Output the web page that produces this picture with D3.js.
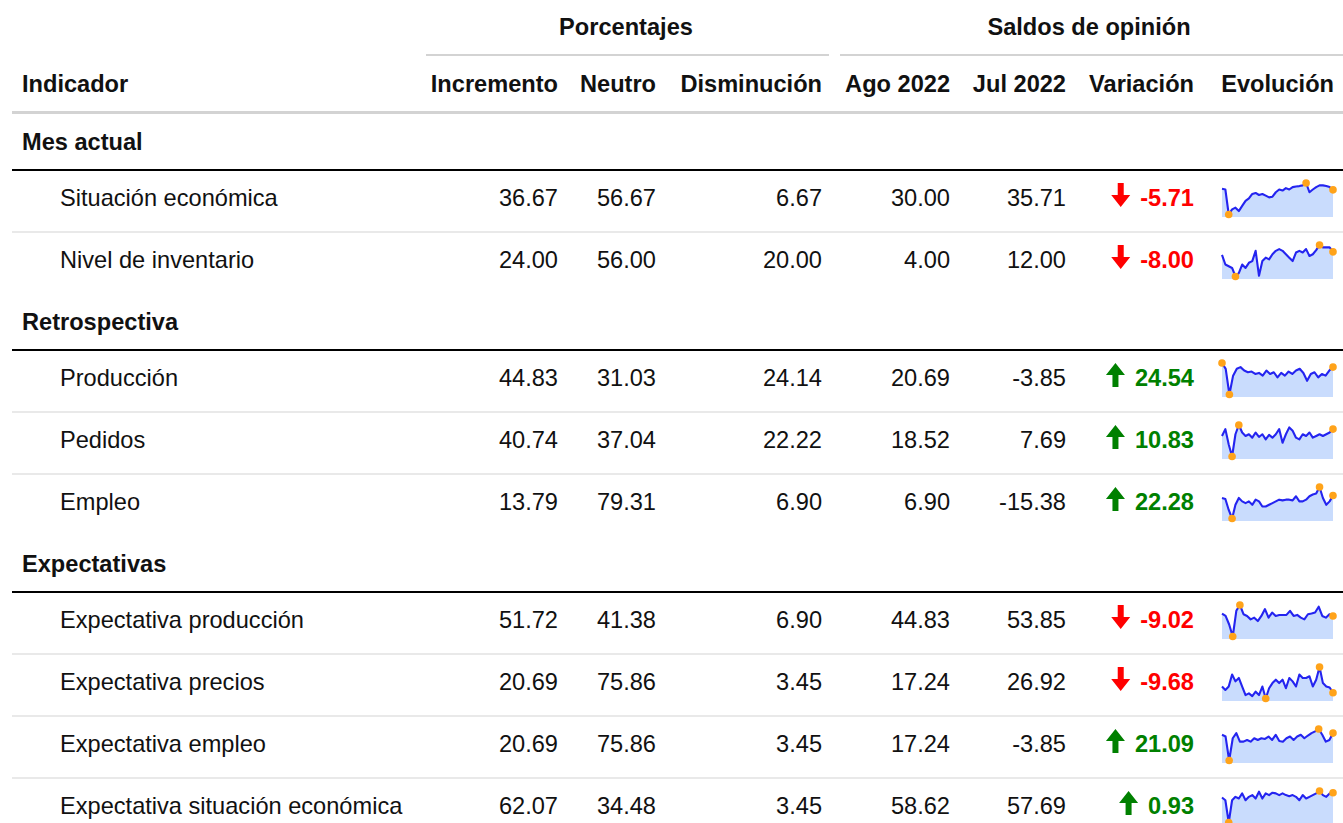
<!DOCTYPE html>
<html>
<head>
<meta charset="utf-8">
<script src="https://cdn.jsdelivr.net/npm/d3@7"></script>
<style>
  body { margin: 0; background: #fff; }
  .bold { font-weight: bold; }
</style>
</head>
<body>
<div id="table"></div>
<script>
// grouped indicators
const groups = ["Mes actual", "Retrospectiva", "Expectativas"];
const indicators = [
  ["Situación económica", "Nivel de inventario"],
  ["Producción", "Pedidos", "Empleo"],
  ["Expectativa producción", "Expectativa precios", "Expectativa empleo", "Expectativa situación económica"]
];
const incremento  = [36.67, 24.00, 44.83, 40.74, 13.79, 51.72, 20.69, 20.69, 62.07];
const neutro      = [56.67, 56.00, 31.03, 37.04, 79.31, 41.38, 75.86, 75.86, 34.48];
const disminucion = [6.67, 20.00, 24.14, 22.22, 6.90, 6.90, 3.45, 3.45, 3.45];
const ago2022     = [30.00, 4.00, 20.69, 18.52, 6.90, 44.83, 17.24, 17.24, 58.62];
const jul2022     = [35.71, 12.00, -3.85, 7.69, -15.38, 53.85, 26.92, -3.85, 57.69];
const variacion   = [-5.71, -8.00, 24.54, 10.83, 22.28, -9.02, -9.68, 21.09, 0.93];

// evolution of the balance (sparklines)
const evolucion = [
  [75, 73, 0, 15, 20, 10, 25, 40, 47, 60, 63, 57, 60, 55, 50, 52, 65, 73, 70, 77, 73, 80, 82, 83, 85, 92, 65, 73, 80, 85, 85, 83, 80, 72],
  [63, 35, 30, 25, 0, 10, 35, 25, 40, 45, 75, 2, 45, 55, 50, 65, 75, 80, 75, 65, 55, 45, 70, 75, 70, 80, 60, 65, 77, 92, 85, 85, 85, 72],
  [92, 75, 0, 55, 75, 80, 70, 65, 67, 60, 63, 55, 70, 60, 65, 50, 63, 55, 67, 60, 70, 75, 63, 40, 60, 65, 50, 60, 55, 70, 80],
  [60, 80, 35, 0, 65, 92, 70, 60, 65, 55, 70, 57, 65, 50, 63, 55, 65, 80, 40, 65, 85, 75, 55, 50, 65, 60, 70, 55, 60, 65, 60, 65, 70, 80],
  [60, 57, 25, 0, 40, 60, 50, 45, 50, 40, 55, 50, 35, 35, 40, 45, 50, 55, 53, 55, 55, 53, 65, 50, 50, 55, 65, 70, 73, 92, 60, 40, 50, 67],
  [67, 60, 35, 0, 75, 92, 65, 60, 50, 55, 45, 60, 80, 55, 70, 60, 63, 63, 63, 75, 60, 63, 55, 50, 65, 67, 70, 87, 60, 55, 65, 60],
  [35, 25, 35, 70, 50, 60, 35, 10, 15, 7, 20, 10, 35, 0, 30, 45, 55, 45, 55, 30, 60, 50, 35, 70, 60, 60, 65, 35, 55, 92, 45, 35, 32, 17],
  [75, 70, 0, 65, 80, 55, 55, 60, 55, 65, 60, 65, 63, 70, 60, 75, 57, 55, 65, 70, 60, 70, 75, 65, 73, 80, 85, 92, 75, 55, 60, 80],
  [73, 65, 0, 65, 75, 70, 85, 65, 75, 80, 70, 90, 70, 85, 80, 87, 85, 80, 85, 80, 77, 80, 75, 65, 80, 70, 75, 80, 85, 92, 80, 75, 85, 87]
];

const width = 1343, height = 823;
const groupH = 56, rowH = 62, top0 = 114;

const svg = d3.select("#table").append("svg")
  .attr("width", width).attr("height", height)
  .attr("font-family", "'Liberation Sans', sans-serif")
  .attr("font-size", 23.6)
  .attr("fill", "#111");

// column right edges
const cols = [
  { name: "Incremento", x: 558, vals: incremento },
  { name: "Neutro", x: 656, vals: neutro },
  { name: "Disminución", x: 822, vals: disminucion },
  { name: "Ago 2022", x: 950, vals: ago2022 },
  { name: "Jul 2022", x: 1066, vals: jul2022 }
];

// spanners
const spanners = [
  { label: "Porcentajes", x0: 426, x1: 829, cx: 626 },
  { label: "Saldos de opinión", x0: 840, x1: 1343, cx: 1089 }
];
spanners.forEach(s => {
  svg.append("text").attr("class", "bold")
    .attr("x", s.cx).attr("y", 35)
    .attr("text-anchor", "middle").text(s.label);
  svg.append("rect").attr("x", s.x0).attr("y", 54).attr("width", s.x1 - s.x0)
    .attr("height", 2).attr("fill", "#d3d3d3");
});

// column headers
svg.append("text").attr("class", "bold").attr("x", 22).attr("y", 91.5).text("Indicador");
cols.forEach(c => {
  svg.append("text").attr("class", "bold").attr("x", c.x).attr("y", 91.5)
    .attr("text-anchor", "end").text(c.name);
});
svg.append("text").attr("class", "bold").attr("x", 1194).attr("y", 91.5)
  .attr("text-anchor", "end").text("Variación");
svg.append("text").attr("class", "bold").attr("x", 1334).attr("y", 91.5)
  .attr("text-anchor", "end").text("Evolución");
svg.append("rect").attr("x", 12).attr("y", 111).attr("width", width - 12)
  .attr("height", 3).attr("fill", "#d3d3d3");

// flatten rows
const rows = [];
let y = top0, k = 0;
groups.forEach((g, gi) => {
  rows.push({ type: "group", label: g, y0: y });
  y += groupH;
  indicators[gi].forEach((name, j) => {
    rows.push({ type: "row", label: name, y0: y, i: k++, last: j === indicators[gi].length - 1 });
    y += rowH;
  });
});

const fmt = v => v.toFixed(2);
const arrowDown = "M-3,-12 L3,-12 L3,0 L9.5,0 L0,12 L-9.5,0 L-3,0 Z";

rows.forEach(r => {
  const g = svg.append("g").attr("transform", `translate(0,${r.y0})`);
  if (r.type === "group") {
    g.append("text").attr("class", "bold").attr("x", 22).attr("y", 35.5).text(r.label);
    g.append("rect").attr("x", 12).attr("y", groupH - 1).attr("width", width - 12)
      .attr("height", 2).attr("fill", "#000");
    return;
  }
  const i = r.i;
  g.append("text").attr("x", 60).attr("y", 35.5).text(r.label);
  cols.forEach(c => {
    g.append("text").attr("x", c.x).attr("y", 35.5).attr("text-anchor", "end").text(fmt(c.vals[i]));
  });
  const v = variacion[i];
  const col = v < 0 ? "#ff0000" : "#008000";
  const num = g.append("text").attr("class", "bold").attr("x", 1194).attr("y", 35.5)
    .attr("text-anchor", "end").attr("fill", col).text(fmt(v));
  const tw = num.node().getComputedTextLength();
  g.append("path").attr("d", arrowDown).attr("fill", col)
    .attr("transform", `translate(${1194 - tw - 19.5},${25}) ${v < 0 ? "" : "rotate(180)"}`);

  // sparkline
  const data = evolucion[i];
  const xs = d3.scaleLinear().domain([0, data.length - 1]).range([1222, 1333]);
  const ys = d3.scaleLinear().domain(d3.extent(data)).range([44.5, 13]);
  g.append("path").datum(data)
    .attr("d", d3.area().x((d, j) => xs(j)).y0(47).y1(d => ys(d)))
    .attr("fill", "#c9dcfd");
  g.append("path").datum(data)
    .attr("d", d3.line().x((d, j) => xs(j)).y(d => ys(d)))
    .attr("fill", "none").attr("stroke", "#2424f0").attr("stroke-width", 2.1)
    .attr("stroke-linejoin", "round");
  const lo = d3.minIndex(data), hi = d3.maxIndex(data), end = data.length - 1;
  g.selectAll("circle").data([lo, hi, end]).join("circle")
    .attr("cx", j => xs(j)).attr("cy", j => ys(data[j])).attr("r", 3.8)
    .attr("fill", "#ffa31a");

  if (!r.last) {
    g.append("rect").attr("x", 12).attr("y", rowH - 0.5).attr("width", width - 12)
      .attr("height", 1).attr("fill", "#d3d3d3");
  }
});
</script>
</body>
</html>
